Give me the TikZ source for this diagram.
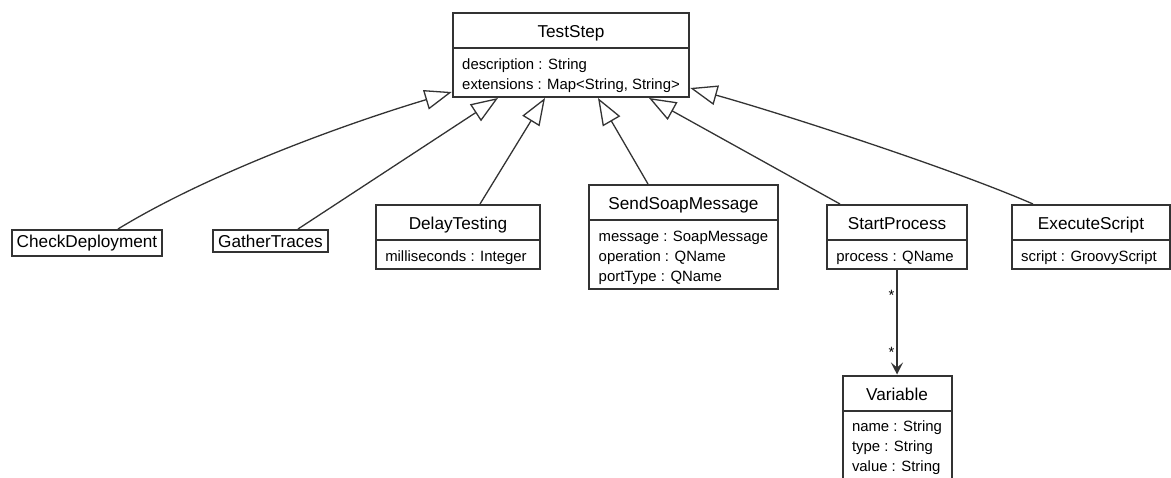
\documentclass[tikz,border=0pt]{standalone}
\usepackage{fontspec}
\setmainfont{Liberation Sans}
\usepackage{tikz}
\usetikzlibrary{positioning,shapes.multipart,arrows.meta,calc}
\definecolor{umlline}{RGB}{51,51,51}
\newcommand{\titlefont}{\fontsize{17.2}{20}\selectfont}
\newcommand{\tstrut}{\rule[-5.7pt]{0pt}{26pt}}
\newcommand{\astrut}{\rule[-3.1pt]{0pt}{20pt}}

\begin{document}
\begin{tikzpicture}[
  x=1pt, y=1pt,
  every node/.style={font=\fontsize{14.9}{20}\selectfont},
  class/.style={rectangle split, rectangle split parts=2, rectangle split part align={center, left},
                draw=umlline, line width=2pt, fill=white, align=left, inner xsep=9.5pt, inner ysep=3.5pt, anchor=north},
  plainclass/.style={rectangle, draw=umlline, line width=2pt, fill=white, font=\titlefont,
                inner xsep=5pt, inner ysep=4.75pt, anchor=north},
  gen/.style={draw=umlline, line width=1.3pt, -{Triangle[open, length=27pt, width=20pt]}},
  assoc/.style={draw=umlline, line width=1.3pt, -{Stealth[length=12pt, width=12pt, inset=5pt]}},
  mult/.style={inner sep=1pt, text=black}
]
  \useasboundingbox (0,0) rectangle (1171,-477);
  \clip (0,0) rectangle (1171,-477);

  \node[class] (teststep) at (571,-12) {%
    \nodepart{one}\titlefont\tstrut TestStep
    \nodepart{two}
      \astrut description : String\\
      \astrut extensions : Map<String, String>
  };

  \node[plainclass] (checkdep) at (87,-229) {CheckDeployment};
  \node[plainclass] (gather) at (270.5,-229) {GatherTraces};

  \node[class] (delay) at (458,-204) {%
    \nodepart{one}\titlefont\tstrut DelayTesting
    \nodepart{two}
      \astrut milliseconds : Integer
  };

  \node[class] (sendsoap) at (683.5,-184) {%
    \nodepart{one}\titlefont\tstrut SendSoapMessage
    \nodepart{two}
      \astrut message : SoapMessage\\
      \astrut operation : QName\\
      \astrut portType : QName
  };

  \node[class] (startproc) at (897,-204) {%
    \nodepart{one}\titlefont\tstrut StartProcess
    \nodepart{two}
      \astrut process : QName
  };

  \node[class] (execscript) at (1091,-204) {%
    \nodepart{one}\titlefont\tstrut ExecuteScript
    \nodepart{two}
      \astrut script : GroovyScript
  };

  \node[class, below=104.5pt of startproc] (variable) {%
    \nodepart{one}\titlefont\tstrut Variable
    \nodepart{two}
      \astrut name : String\\
      \astrut type : String\\
      \astrut value : String
  };

  % generalizations
  \draw[gen] ([xshift=31pt]checkdep.north) .. controls +(90,55) and +(-110,-33) .. ([yshift=6pt]teststep.south west);
  \draw[gen] ([xshift=27.5pt]gather.north) -- ([xshift=-73pt]teststep.south);
  \draw[gen] ([xshift=22pt]delay.north) -- ([xshift=-26pt]teststep.south);
  \draw[gen] ([xshift=-35.5pt]sendsoap.north) -- ([xshift=27pt]teststep.south);
  \draw[gen] ([xshift=-57pt]startproc.north) -- ([xshift=78pt]teststep.south);
  \draw[gen] ([xshift=-58pt]execscript.north) .. controls +(-80,35) and +(90,-25) .. ([yshift=10pt]teststep.south east);

  % association
  \draw[assoc] (startproc.south) -- node[mult, pos=0.24, left=1pt]{*} node[mult, pos=0.785, left=1pt]{*} (variable.north);
\end{tikzpicture}
\end{document}
